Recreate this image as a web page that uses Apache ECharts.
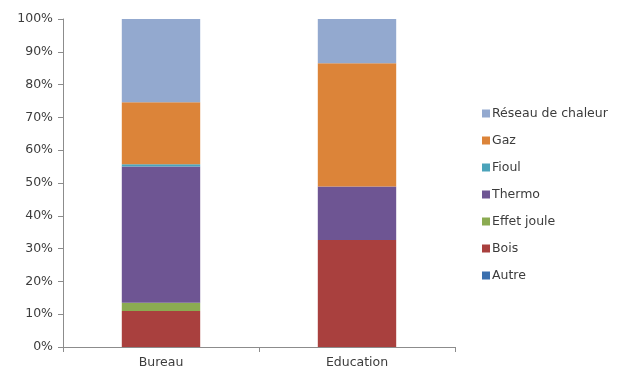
<!DOCTYPE html>
<html>
<head>
<meta charset="utf-8">
<script src="https://cdn.jsdelivr.net/npm/echarts@6/dist/echarts.min.js"></script>
<style>
  html, body { margin: 0; padding: 0; background: #fff; }
  #chart { width: 629px; height: 372px; }
</style>
</head>
<body>
<div id="chart"></div>
<script>
// Share of each heating energy by building type (percent)
const categories = ['Bureau', 'Education'];
const autre       = [0, 0];
const bois        = [11.0, 32.6];
const effetJoule  = [2.5, 0];
const thermo      = [41.5, 16.3];
const fioul       = [0.7, 0];
const gaz         = [18.9, 37.6];
const reseau      = [25.4, 13.5];
const yTicks = [0, 10, 20, 30, 40, 50, 60, 70, 80, 90, 100];

const seriesDefs = [
  { name: 'Autre', data: autre, color: '#3A6FAE' },
  { name: 'Bois', data: bois, color: '#A9403E' },
  { name: 'Effet joule', data: effetJoule, color: '#8BAB51' },
  { name: 'Thermo', data: thermo, color: '#6E5593' },
  { name: 'Fioul', data: fioul, color: '#4BA3BA' },
  { name: 'Gaz', data: gaz, color: '#DC8439' },
  { name: 'Réseau de chaleur', data: reseau, color: '#93A9CF' }
];

const font = '"DejaVu Sans", "Liberation Sans", sans-serif';
const textColor = '#3C3C3C';
const chart = echarts.init(document.getElementById('chart'), null, { renderer: 'canvas' });

chart.setOption({
  animation: false,
  backgroundColor: '#fff',
  grid: { left: 63, right: 174, top: 19, bottom: 25, containLabel: false },
  legend: {
    orient: 'vertical',
    left: 477,
    top: 102,
    itemWidth: 8,
    itemHeight: 8,
    itemGap: 14,
    icon: 'rect',
    data: seriesDefs.map(s => s.name).reverse(),
    textStyle: { fontFamily: font, fontSize: 12.5, color: textColor, padding: [0, 0, 0, -3] }
  },
  xAxis: {
    type: 'category',
    data: categories,
    axisLine: { lineStyle: { color: '#8C8C8C', width: 1 } },
    axisTick: { show: true, length: 5, lineStyle: { color: '#8C8C8C' } },
    axisLabel: { fontFamily: font, fontSize: 12.5, color: textColor, margin: 9 }
  },
  yAxis: {
    type: 'value',
    min: 0,
    max: 100,
    interval: 10,
    axisLine: { show: true, lineStyle: { color: '#8C8C8C', width: 1 } },
    axisTick: { show: true, length: 5, lineStyle: { color: '#8C8C8C' } },
    splitLine: { show: false },
    axisLabel: {
      fontFamily: font, fontSize: 12.5, color: textColor, margin: 10,
      formatter: v => (yTicks.indexOf(v) >= 0 ? v + '%' : '')
    }
  },
  series: seriesDefs.map(s => ({
    name: s.name,
    type: 'bar',
    stack: 'total',
    barWidth: '40%',
    data: s.data,
    itemStyle: { color: s.color }
  }))
});
</script>
</body>
</html>
